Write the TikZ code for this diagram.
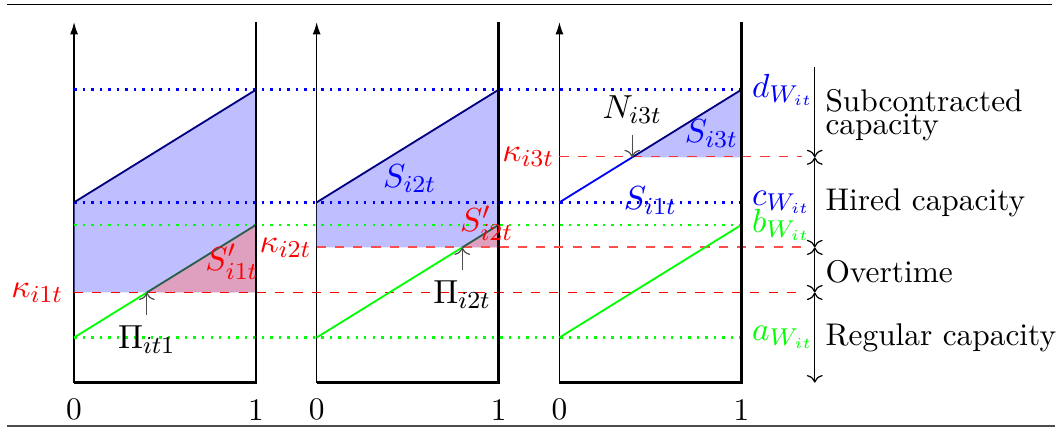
\documentclass[tikz,border=0pt]{standalone}
\usepackage{amsmath}
\usepackage{amssymb}
\usetikzlibrary{arrows.meta, positioning}
\colorlet{capfill}{blue!50}
\colorlet{otfill}{red!50}
\colorlet{navyline}{blue!50!black}
\definecolor{tealline}{RGB}{40,95,75}

\begin{document}
\begin{tikzpicture}[x=2.1cm, y=0.52cm, >=To,
    font=\fontsize{10.3}{12.4}\selectfont,
    lvl/.style={thick, dotted},
    kap/.style={red, line width=0.4pt, dash pattern=on 3pt off 3pt},
    edgeline/.style={line width=0.9pt},
    diag/.style={semithick},
    lab/.style={font=\fontsize{10.8}{13}\selectfont},
    ptr/.style={->, black!70}]
    \useasboundingbox (-0.407,-1.03) rectangle (5.412,8.49);

    % Rules
    \draw[line width=0.4pt] (-0.368,8.385) -- (5.374,8.385);
    \draw[line width=0.8pt, black!70] (-0.368,-0.962) -- (5.39,-0.962);

    % Axes
    \foreach \s in {0,1.333,2.667} {
      \draw[-{Latex[length=4pt,width=2.6pt]}] (\s,0) -- (\s,8);
    }

    % Capacity regions
    \fill[capfill, fill opacity=0.5] (0,2) -- (0,4) -- (1,6.5) -- (1,2) -- cycle;
    \fill[otfill, fill opacity=0.5] (0.4,2) -- (1,3.5) -- (1,2) -- cycle;
    \fill[capfill, fill opacity=0.5] (1.333,3) -- (1.333,4) -- (2.333,6.5) -- (2.333,3) -- cycle;
    \fill[otfill, fill opacity=0.5] (2.133,3) -- (2.333,3.5) -- (2.333,3) -- cycle;
    \fill[capfill, fill opacity=0.5] (3.067,5) -- (3.667,6.5) -- (3.667,5) -- cycle;

    % Levels
    \draw[lvl, blue] (0,6.5) -- (3.667,6.5) (0,4) -- (3.667,4);
    \draw[lvl, green] (0,3.5) -- (3.667,3.5) (0,1) -- (3.667,1);
    \draw[kap] (0,2) -- (4,2);
    \draw[kap, red!70] (1.333,3.01) -- (4,3.01);
    \draw[kap, red!80] (2.667,5.01) -- (4,5.01);

    % Panel 1
    \coordinate (P1) at (0.4,2);
    \draw[diag, navyline] (0,4) -- (1,6.5);
    \draw[diag, green] (0,1) -- (P1);
    \draw[diag, tealline] (P1) -- (1,3.5);
    \draw[edgeline] (0,0) -- (1,0) -- (1,8);
    \node (zeroA) at (0,-0.6) {0};
    \node (oneA) at (1,-0.6) {1};
    \node[lab, red, left] (kapA) at (0,2) {$\kappa_{i1t}$};
    \node[lab, red, right, inner sep=1pt] (kapB) at (1,3) {$\kappa_{i2t}$};
    \node[lab, red] (sprA) at (0.868,2.68) {$S'_{i1t}$};
    \node[lab, below] (piA) at (0.4,1.5) {$\Pi_{it1}$};
    \draw[ptr] (piA.north) -- (P1);

    % Panel 2
    \coordinate (P2) at (2.133,3);
    \draw[diag, navyline] (1.333,4) -- (2.333,6.5);
    \draw[diag, green] (1.333,1) -- (P2);
    \draw[diag, tealline] (P2) -- (2.333,3.5);
    \draw[edgeline] (1.333,0) -- (2.333,0) -- (2.333,8);
    \node (zeroB) at (1.333,-0.6) {0};
    \node (oneB) at (2.333,-0.6) {1};
    \node[lab, red, right, inner sep=1pt] (kapC) at (2.333,5) {$\kappa_{i3t}$};
    \node[lab, blue] (sB) at (1.844,4.535) {$S_{i2t}$};
    \node[lab, red] (sprB) at (2.267,3.54) {$S'_{i2t}$};
    \node[lab, below] (piB) at (2.133,2.5) {$\Pi_{i2t}$};
    \draw[ptr] (piB.north) -- (P2);

    % Panel 3
    \coordinate (P3) at (3.067,5);
    \draw[diag, blue] (2.667,4) -- (P3);
    \draw[diag, navyline] (P3) -- (3.667,6.5);
    \draw[diag, green] (2.667,1) -- (3.667,3.5);
    \draw[edgeline] (2.667,0) -- (3.667,0) -- (3.667,8);
    \node (zeroC) at (2.667,-0.6) {0};
    \node (oneC) at (3.667,-0.6) {1};
    \node[lab, above] (nC) at (3.067,5.5) {$N_{i3t}$};
    \draw[ptr] (nC.south) -- (P3);
    \node[lab, blue] (sC) at (3.502,5.53) {$S_{i3t}$};
    \node[lab, blue] (sD) at (3.167,4.03) {$S_{i1t}$};
    \node[lab, blue, right] (dW) at (3.667,6.5) {$d_{W_{it}}$};
    \node[lab, blue, right] (cW) at (3.667,4) {$c_{W_{it}}$};
    \node[lab, green, right] (bW) at (3.667,3.5) {$b_{W_{it}}$};
    \node[lab, green, right] (aW) at (3.667,1) {$a_{W_{it}}$};

    % Side brackets
    \coordinate (m7) at (4.07,7);
    \coordinate (m5) at (4.07,5);
    \coordinate (m3) at (4.07,3);
    \coordinate (m2) at (4.07,2);
    \coordinate (m0) at (4.07,0);
    \draw[->] (m7) -- (m5);
    \draw[<->] (m5) -- (m3);
    \draw[<->] (m3) -- (m2);
    \draw[<->] (m2) -- (m0);
    \node[right, align=left] (subc) at (4.07,5.93) {Subcontracted\\[-5pt]capacity};
    \node[right] (hired) at (4.07,4) {Hired capacity};
    \node[right] (over) at (4.07,2.46) {Overtime};
    \node[right] (reg) at (4.07,1) {Regular capacity};
  \end{tikzpicture}
\end{document}
